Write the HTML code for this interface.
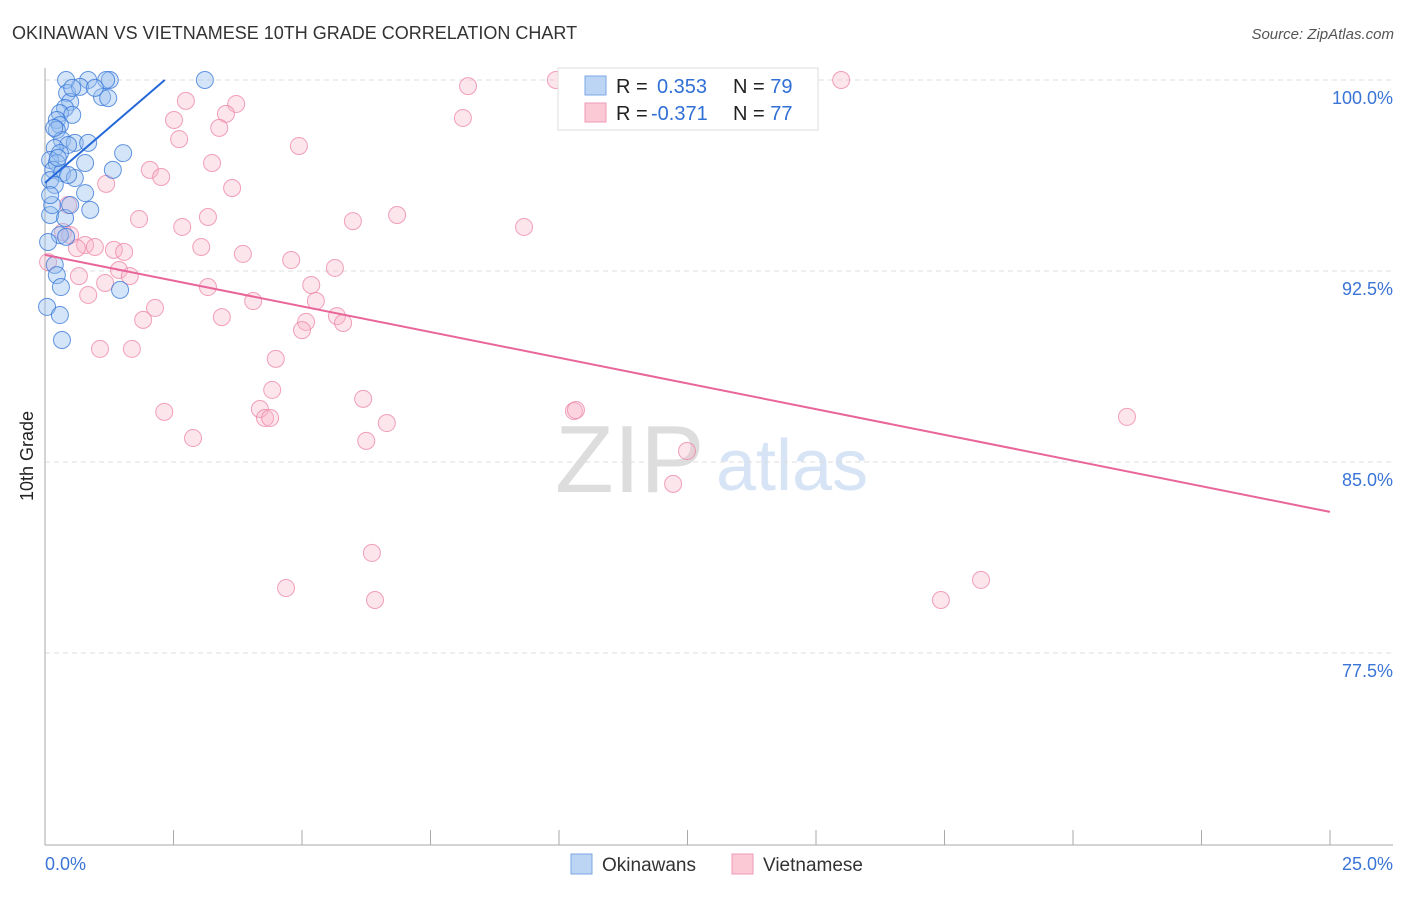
<!DOCTYPE html>
<html><head><meta charset="utf-8"><style>
body{margin:0;background:#fff;font-family:"Liberation Sans",sans-serif;}
svg text{font-family:"Liberation Sans",sans-serif;}
</style></head><body>
<svg id="chart" width="1406" height="892" xmlns="http://www.w3.org/2000/svg">
<text x="12" y="39" font-size="18" fill="#333">OKINAWAN VS VIETNAMESE 10TH GRADE CORRELATION CHART</text>
<text x="1394" y="39" font-size="15" fill="#555" text-anchor="end" font-style="italic">Source: ZipAtlas.com</text>
<text x="33" y="456" font-size="18" fill="#222" text-anchor="middle" transform="rotate(-90 33 456)">10th Grade</text>
<text x="555" y="492" font-size="96" fill="#ddd" font-family="Liberation Serif">ZIP</text>
<text x="716" y="490" font-size="72" fill="#d6e4f5">atlas</text>
<g id="grid"></g>
<g id="axes"></g>
<g id="pts"></g>
<g id="lines"></g>
<g>
<rect x="558" y="68" width="260" height="62" fill="#fff" stroke="#ddd"/>
<rect x="585" y="76" width="21" height="19" fill="#bcd5f5" stroke="#7aa7e6"/>
<rect x="585" y="103" width="21" height="19" fill="#fbc8d6" stroke="#ef9ab4"/>
<text x="616" y="93" font-size="20" fill="#222">R = <tspan x="657" fill="#2f6fd6">0.353</tspan><tspan x="733" fill="#222">N = </tspan><tspan fill="#2f6fd6">79</tspan></text>
<text x="616" y="120" font-size="20" fill="#222">R = <tspan x="651" fill="#2f6fd6">-0.371</tspan><tspan x="733" fill="#222">N = </tspan><tspan fill="#2f6fd6">77</tspan></text>
</g>
<g>
<rect x="571" y="854" width="21" height="20" fill="#bcd5f5" stroke="#7aa7e6"/>
<text x="602" y="871" font-size="19" fill="#333">Okinawans</text>
<rect x="732" y="854" width="21" height="20" fill="#fbc8d6" stroke="#ef9ab4"/>
<text x="763" y="871" font-size="19" fill="#333">Vietnamese</text>
</g>
</svg>
<script>
const yTicks=[100,92.5,85,77.5];
const yTickLabels=["100.0%","92.5%","85.0%","77.5%"];
const xTickLabels=["0.0%","25.0%"];
const blueX=[0.41,0.84,1.26,1.19,3.11,0.43,0.68,1.11,1.23,0.49,0.39,0.29,0.53,0.23,0.29,0.23,0.33,0.58,0.84,0.45,0.19,0.29,0.10,0.23,0.78,0.16,0.33,1.32,0.58,0.10,0.19,0.78,1.52,0.88,0.10,0.39,0.29,0.06,0.41,0.19,0.23,0.31,1.46,0.04,0.29,0.33,0.49,0.14,0.18,0.97,0.53,0.10,0.25,0.45];
const blueY=[100,100,100,100,100,99.49,99.73,99.33,99.29,99.14,98.90,98.70,98.63,98.43,98.23,98.04,97.64,97.53,97.53,97.45,97.33,97.13,96.86,96.74,96.74,96.47,96.35,96.47,96.15,96.07,95.88,95.56,97.13,94.90,94.70,94.58,93.91,93.64,93.84,92.74,92.34,91.87,91.76,91.09,90.77,89.79,95.09,95.09,98.12,99.69,99.69,95.48,96.94,96.27];
const pinkX=[9.94,15.49,8.23,2.74,3.72,3.52,2.51,8.13,3.39,2.61,4.94,3.25,2.04,2.26,1.19,3.64,0.45,1.83,2.67,3.17,5.99,6.85,9.32,0.35,0.49,0.78,0.62,0.97,1.34,1.54,3.04,3.85,0.06,4.79,5.64,1.44,1.65,0.66,1.17,0.84,3.17,4.05,5.18,5.27,2.14,1.91,3.44,5.08,5.68,5.80,5.00,1.07,1.69,4.49,4.42,6.19,2.32,4.18,4.28,4.38,6.65,2.88,6.25,10.29,10.33,12.49,12.22,21.05,6.36,4.69,6.42,17.43,18.21];
const pinkY=[100,100,99.76,99.18,99.06,98.67,98.43,98.51,98.12,97.68,97.41,96.74,96.47,96.19,95.92,95.76,95.09,94.54,94.23,94.62,94.46,94.70,94.23,94.03,93.91,93.52,93.40,93.44,93.33,93.25,93.44,93.17,92.85,92.93,92.62,92.54,92.30,92.30,92.03,91.56,91.87,91.32,91.95,91.32,91.05,90.58,90.69,90.50,90.73,90.46,90.18,89.44,89.44,89.05,87.83,87.48,86.97,87.08,86.73,86.73,86.53,85.94,85.83,87.00,87.04,85.43,84.14,86.77,81.43,80.05,79.58,79.58,80.37];
const blueTrend=[[0,95.96],[2.33,100]];
const pinkTrend=[[0,93.13],[25,83.04]];

const NS="http://www.w3.org/2000/svg";
const X=v=>45+v/25*1285;
const Y=v=>80+(100-v)/7.5*191;
function mk(tag,attrs,parent){const e=document.createElementNS(NS,tag);for(const k in attrs)e.setAttribute(k,attrs[k]);parent.appendChild(e);return e;}
const grid=document.getElementById('grid'),axes=document.getElementById('axes'),pts=document.getElementById('pts'),lines=document.getElementById('lines');
yTicks.forEach((t,i)=>{
  const l=mk('line',{x1:45,x2:1393,y1:Y(t),y2:Y(t),stroke:'#ddd','stroke-dasharray':'5,4'},grid);
  
  
  const tx=mk('text',{x:1393,y:Y(t)+24,'font-size':18,fill:'#3a74d6','text-anchor':'end'},axes);
  tx.textContent=yTickLabels[i];
  
  
});
let a=mk('line',{x1:45,x2:45,y1:68,y2:845,stroke:'#aaa'},axes);


a=mk('line',{x1:45,x2:1393,y1:845,y2:845,stroke:'#aaa'},axes);


for(let i=0;i<=10;i++){
  const t=mk('line',{x1:X(i*2.5),x2:X(i*2.5),y1:830,y2:845,stroke:'#aaa'},axes);
  
  
}
let xl=mk('text',{x:45,y:870,'font-size':18,fill:'#3a74d6'},axes);xl.textContent=xTickLabels[0];


xl=mk('text',{x:1393,y:870,'font-size':18,fill:'#3a74d6','text-anchor':'end'},axes);xl.textContent=xTickLabels[1];


pinkX.forEach((v,i)=>{
  const c=mk('circle',{cx:X(v),cy:Y(pinkY[i]),r:8.5,fill:'rgba(248,180,200,0.35)',stroke:'rgba(236,130,165,0.75)','stroke-width':1},pts);
  
  
});
blueX.forEach((v,i)=>{
  const c=mk('circle',{cx:X(v),cy:Y(blueY[i]),r:8.5,fill:'rgba(150,190,240,0.4)',stroke:'rgba(50,115,215,0.75)','stroke-width':1},pts);
  
  
});
let tl=mk('line',{x1:X(pinkTrend[0][0]),y1:Y(pinkTrend[0][1]),x2:X(pinkTrend[1][0]),y2:Y(pinkTrend[1][1]),stroke:'#e8659a','stroke-width':2},lines);


tl=mk('line',{x1:X(blueTrend[0][0]),y1:Y(blueTrend[0][1]),x2:X(blueTrend[1][0]),y2:Y(blueTrend[1][1]),stroke:'#2468d8','stroke-width':2},lines);


</script>
</body></html>
